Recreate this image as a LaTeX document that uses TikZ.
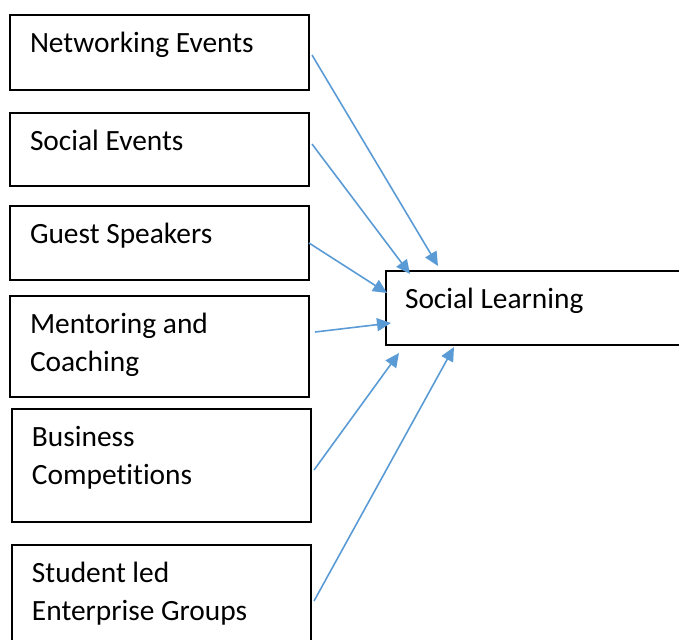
\documentclass[tikz,border=0pt]{standalone}
\usepackage{fontspec}
\setmainfont{Carlito}[Ligatures=NoCommon]
\usetikzlibrary{positioning,arrows.meta}
\definecolor{arrowblue}{HTML}{5B9BD5}

\begin{document}
\begin{tikzpicture}[x=0.5pt, y=-0.5pt,
    box/.style={draw, line width=0.75pt, outer sep=0pt, inner ysep=0pt, inner xsep=10pt,
        align=left, text width=129.5pt, text height=18.5pt,
        font=\fontsize{14.7pt}{19pt}\selectfont,
        execute at begin node={\spaceskip=0pt\xspaceskip=0pt\relax}},
    feed/.style={draw=arrowblue, line width=0.8pt, -{Triangle[length=7pt, width=6.5pt]}}]
\useasboundingbox (0,0) rectangle (679,639);
\clip (0,0) rectangle (679,639);

\node (b1) [box, anchor=north west, text depth=19pt] at (10,15) {Networking Events};
\node (b2) [box, below=11.5pt of b1, text depth=18pt] {Social Events};
\node (b3) [box, below=10pt of b2, text depth=18.5pt] {Guest Speakers};
\node (b4) [box, below=8pt of b3, text depth=32pt] {Mentoring and\\Coaching};
\node (b5) [box, below=6pt of b4.south west, anchor=north west, xshift=1pt, text depth=38pt] {Business\\Competitions};
\node (b6) [box, below=11.5pt of b5, text depth=39pt] {Student led\\Enterprise Groups};

\node (sl) [box, anchor=north west, text width=137pt, inner xsep=9.5pt, text depth=18.5pt] at (386,271) {Social Learning};

\foreach \src/\sx/\sy/\ex/\ey in {b1/3/2.5/52/-5, b2/3/-5.5/24/3, b3/0/0/1/22,
    b4/6/-14.5/5/52, b5/3/4.5/13/82, b6/3/-1.5/68/76}
  \draw[feed] ([shift={(\sx,\sy)}]\src.east) -- ([shift={(\ex,\ey)}]sl.north west);

\end{tikzpicture}
\end{document}
